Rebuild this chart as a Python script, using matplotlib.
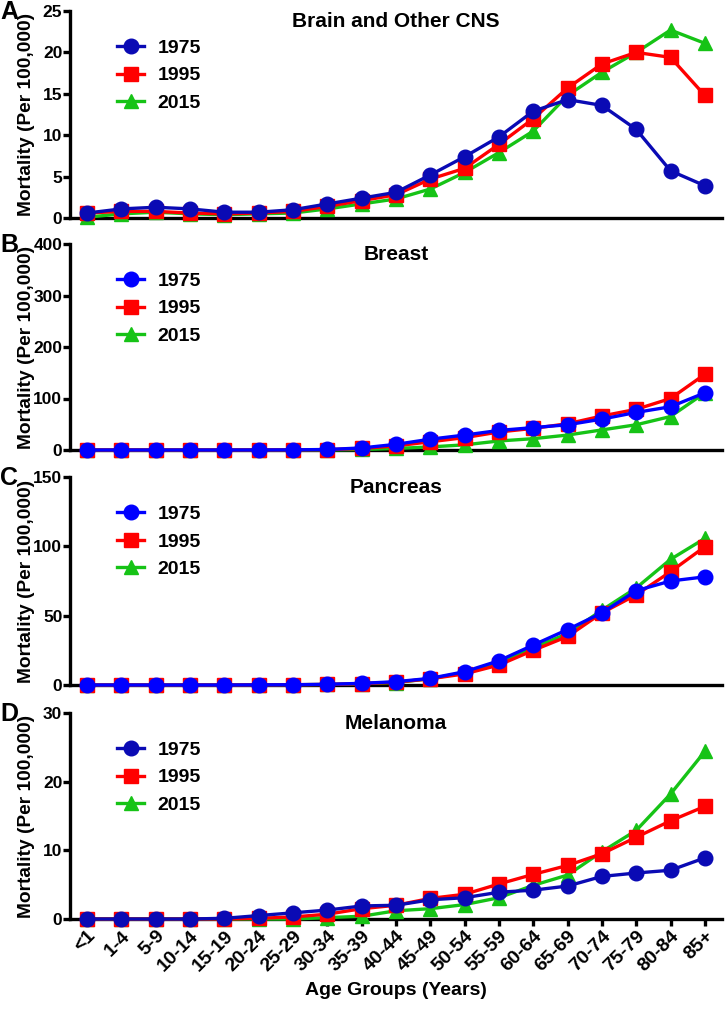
import matplotlib
matplotlib.use("Agg")
import matplotlib.pyplot as plt

age_groups = ["<1", "1-4", "5-9", "10-14", "15-19", "20-24", "25-29", "30-34",
              "35-39", "40-44", "45-49", "50-54", "55-59", "60-64", "65-69",
              "70-74", "75-79", "80-84", "85+"]
years = ["1975", "1995", "2015"]

brain_1975 = [0.6, 1.1, 1.3, 1.1, 0.7, 0.7, 1.0, 1.7, 2.4, 3.1, 5.2, 7.4, 9.8, 12.9, 14.3, 13.6, 10.7, 5.7, 3.9]
brain_1995 = [0.6, 0.8, 0.8, 0.6, 0.5, 0.6, 0.8, 1.4, 2.1, 2.8, 4.7, 6.0, 8.9, 12.0, 15.7, 18.6, 20.0, 19.4, 14.8]
brain_2015 = [0.1, 0.5, 0.7, 0.5, 0.4, 0.5, 0.6, 1.1, 1.7, 2.3, 3.5, 5.5, 7.9, 10.5, 14.8, 17.6, 20.0, 22.7, 21.1]

breast_1975 = [0.0, 0.0, 0.0, 0.0, 0.0, 0.1, 0.3, 1.0, 4.0, 11.0, 21.0, 29.0, 38.0, 43.5, 49.0, 60.0, 73.0, 84.0, 111.0]
breast_1995 = [0.0, 0.0, 0.0, 0.0, 0.0, 0.1, 0.3, 0.8, 3.0, 8.0, 16.0, 24.0, 35.0, 42.0, 51.0, 66.0, 79.0, 100.0, 147.0]
breast_2015 = [0.0, 0.0, 0.0, 0.0, 0.0, 0.0, 0.1, 0.2, 1.0, 3.0, 6.0, 10.0, 17.5, 22.0, 29.0, 39.0, 49.0, 65.0, 111.0]

pancreas_1975 = [0.0, 0.0, 0.0, 0.0, 0.0, 0.1, 0.2, 0.5, 1.2, 2.4, 4.8, 9.6, 17.5, 28.8, 40.0, 52.0, 68.0, 75.0, 78.0]
pancreas_1995 = [0.0, 0.0, 0.0, 0.0, 0.0, 0.1, 0.2, 0.4, 1.0, 2.0, 4.5, 8.0, 14.4, 25.0, 35.0, 52.0, 65.0, 81.7, 99.7]
pancreas_2015 = [0.0, 0.0, 0.0, 0.0, 0.0, 0.1, 0.2, 0.4, 0.9, 1.8, 4.5, 9.0, 16.0, 27.0, 37.0, 54.0, 70.0, 90.6, 105.7]

melanoma_1975 = [0.0, 0.0, 0.0, 0.0, 0.1, 0.5, 0.9, 1.3, 1.9, 2.0, 2.8, 3.1, 3.9, 4.2, 4.8, 6.2, 6.7, 7.1, 8.9]
melanoma_1995 = [0.0, 0.0, 0.0, 0.0, 0.0, 0.1, 0.3, 0.7, 1.5, 2.0, 3.0, 3.6, 5.1, 6.5, 7.8, 9.5, 11.9, 14.3, 16.4]
melanoma_2015 = [0.0, 0.0, 0.0, 0.0, 0.0, 0.0, 0.0, 0.2, 0.4, 1.2, 1.5, 2.1, 3.1, 4.9, 6.4, 9.8, 12.9, 18.2, 24.4]

titles = ["Brain and Other CNS", "Breast", "Pancreas", "Melanoma"]
letters = ["A", "B", "C", "D"]
ylims = [25, 400, 150, 30]
yticks = [[0, 5, 10, 15, 20, 25], [0, 100, 200, 300, 400], [0, 50, 100, 150], [0, 10, 20, 30]]
panel_data = [
    (brain_1975, brain_1995, brain_2015),
    (breast_1975, breast_1995, breast_2015),
    (pancreas_1975, pancreas_1995, pancreas_2015),
    (melanoma_1975, melanoma_1995, melanoma_2015),
]

plt.rcParams['font.family'] = ['Liberation Sans', 'DejaVu Sans']
plt.rcParams['font.weight'] = 'bold'

blue_dark = "#0a0ab4"
blue_bright = "#0000ff"
red = "#ff0000"
green = "#16c316"
blues = [blue_dark, blue_bright, blue_bright, blue_dark]

W, H = 725, 1010
fig = plt.figure(figsize=(W / 100, H / 100), dpi=100)

# pixel positions: (top, bottom)
boxes = [(11, 218), (244, 450), (477, 685), (713, 919)]
left_px, right_px = 70, 722

x = list(range(len(age_groups)))

for i, ((top, bot), d) in enumerate(zip(boxes, panel_data)):
    ax = fig.add_axes([left_px / W, 1 - bot / H, (right_px - left_px) / W, (bot - top) / H])
    colors = [blues[i], red, green]
    markers = ["o", "s", "^"]
    msizes = [10.5, 9.5, 10]
    zs = [5, 4, 3]
    handles = []
    for vals, c, m, ms, z, lab in zip(d, colors, markers, msizes, zs, years):
        h, = ax.plot(x, vals, color=c, marker=m, markersize=ms, linewidth=2.4,
                     markeredgecolor=c, zorder=z, clip_on=False, label=lab)
        handles.append(h)
    ax.set_xlim(-0.5, 18.5)
    ax.set_ylim(0, ylims[i])
    ax.set_yticks(yticks[i])
    for s in ["top", "right"]:
        ax.spines[s].set_visible(False)
    for s in ["left", "bottom"]:
        ax.spines[s].set_linewidth(2.4)
        ax.spines[s].set_zorder(2)
    ax.tick_params(axis="y", width=2.4, length=5, labelsize=12.5, pad=0.5)
    ax.set_xticks(x)
    if i < 3:
        ax.tick_params(axis="x", length=0, labelbottom=False)
    else:
        ax.tick_params(axis="x", width=2.4, length=5, labelsize=14, pad=1)
        ax.set_xticklabels(age_groups, rotation=45, ha="right", rotation_mode="anchor")
        ax.set_xlabel("Age Groups (Years)", fontsize=14, fontweight="bold", labelpad=5)
    ax.set_ylabel("Mortality (Per 100,000)", fontsize=13.8, fontweight="bold")
    ax.yaxis.set_label_coords((35 - left_px) / (right_px - left_px), 0.5)
    ax.text(0.5, 0.95, titles[i], transform=ax.transAxes, ha="center", va="center",
            fontsize=15, fontweight="bold")
    ax.legend(handles=handles, loc="upper left", bbox_to_anchor=(0.06, 0.9),
              frameon=False, fontsize=14, handlelength=1.4, handletextpad=0.7,
              labelspacing=0.5, borderaxespad=0)
    fig.text(0 / W, 1 - (top + 1) / H, letters[i], fontsize=18, fontweight="bold",
             ha="left", va="center")

fig.savefig("out.png", dpi=100)
